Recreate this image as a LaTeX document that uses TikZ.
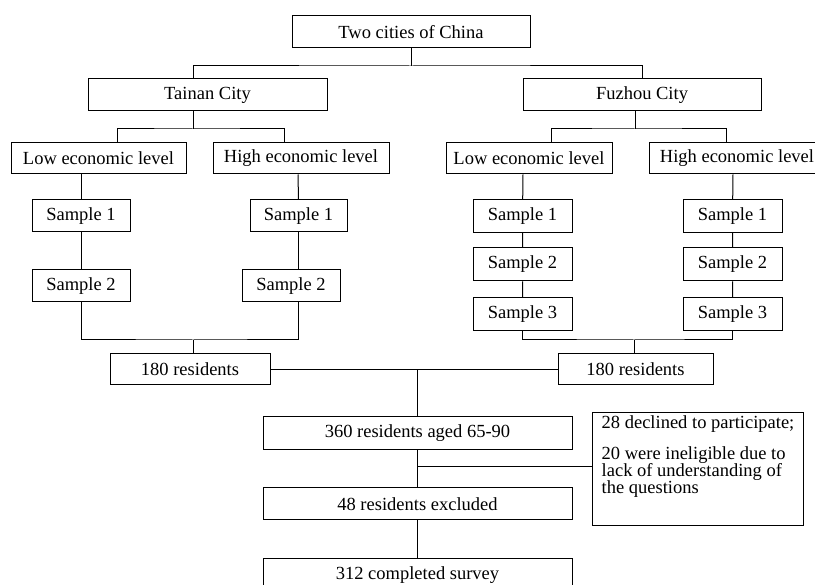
\documentclass[tikz,border=0pt]{standalone}
\usepackage{fontspec}
\setmainfont{Liberation Serif}
\usepackage{xcolor}
\usetikzlibrary{positioning, calc}

\begin{document}
\begin{tikzpicture}[
          x=1pt, y=-1pt,
          every node/.style={font=\fontsize{18.5}{22}\selectfont},
          box/.style={rectangle, draw=black, line width=1pt, inner sep=0pt, minimum height=32pt},
          notebox/.style={rectangle, draw=black, line width=1pt, align=left, inner xsep=8pt, inner ysep=4pt, text height=77.5pt, text depth=27.5pt, minimum width=211pt, font=\fontsize{18.5}{17.5}\selectfont},
          link/.style={draw=black, line width=1pt}
        ]
          \useasboundingbox (0,0) rectangle (815,585);

          % Study area
          \node[box, minimum width=238pt] (china) at (411,32) {Two cities of China};
          \node[box, minimum width=239pt] (tainan) at (207.5,95) {Tainan City};
          \node[box, minimum width=238pt] (fuzhou) at (642,95) {Fuzhou City};

          % Economic levels
          \node[box, minimum width=175pt, minimum height=31pt] (tlow) at (98.5,158.5) {Low economic level};
          \node[box, minimum width=176pt, minimum height=31pt] (thigh) at (301,158.5) {High economic level};
          \node[box, minimum width=166pt, minimum height=31pt] (flow) at (529,158.5) {Low economic level};
          \node[box, minimum width=176pt, minimum height=31pt] (fhigh) at (737,158.5) {High economic level};

          % Samples, Tainan
          \node[box, minimum width=98pt] (tl1) at (81,216) {Sample 1};
          \node[box, minimum width=98pt] (tl2) at (81,286) {Sample 2};
          \node[box, minimum width=97pt] (th1) at (298.5,216) {Sample 1};
          \node[box, minimum width=98pt] (th2) at (291,286) {Sample 2};

          % Samples, Fuzhou
          \node[box, minimum width=99pt, minimum height=33pt] (fl1) at (522.5,216) {Sample 1};
          \node[box, minimum width=99pt, minimum height=33pt] (fl2) at (522.5,264.5) {Sample 2};
          \node[box, minimum width=99pt, minimum height=33pt] (fl3) at (522.5,314.5) {Sample 3};
          \node[box, minimum width=99pt, minimum height=33pt] (fh1) at (732.5,216) {Sample 1};
          \node[box, minimum width=99pt, minimum height=33pt] (fh2) at (732.5,264.5) {Sample 2};
          \node[box, minimum width=99pt, minimum height=33pt] (fh3) at (732.5,314.5) {Sample 3};

          % Residents
          \node[box, minimum width=160pt, minimum height=31pt] (tres) at (190,369.5) {180 residents};
          \node[box, minimum width=155pt, minimum height=31pt] (fres) at (635.5,369.5) {180 residents};
          \node[box, minimum width=309pt, minimum height=33pt] (total) at (417.5,433.5) {360 residents aged 65-90};
          \node[box, minimum width=309pt] (excl) at (417.5,504) {48 residents excluded};
          \node[box, minimum width=309pt] (done) at (417.5,575) {312 completed survey};
          \node[notebox, anchor=north west] (reason) at (592,412) {28 declined to participate;\\[13pt]20 were ineligible due to\\lack of understanding of\\the questions};

          % Top split
          \coordinate (j0) at (411,66);
          \draw[link] (china.south) -- (j0);
          \draw[link] ([xshift=-14.5pt]tainan.north) |- (j0) -| (fuzhou.north);

          % City splits
          \coordinate (j1) at (193,129);
          \draw[link] ([xshift=-14.5pt]tainan.south) -- (j1);
          \draw[link] ([xshift=18.5pt]tlow.north) |- (j1) -| ([xshift=-17pt]thigh.north);
          \coordinate (j2) at (635,129);
          \draw[link] ([xshift=-7pt]fuzhou.south) -- (j2);
          \draw[link] ([xshift=22pt]flow.north) |- (j2) -| ([xshift=-11pt]fhigh.north);

          % Sample chains
          \draw[link] ([xshift=-17.5pt]tlow.south) -- (tl1) -- (tl2);
          \draw[link] ([xshift=-3pt]thigh.south) -- (th1.north);
          \draw[link] (th1.south) -- (th1.south |- th2.north);
          \draw[link] ([xshift=-6pt]flow.south) -- (fl1) -- (fl2) -- (fl3);
          \draw[link] ([xshift=-4pt]fhigh.south) -- (fh1) -- (fh2) -- (fh3);

          % Merge brackets
          \coordinate (j3) at (193,340);
          \draw[link] (tl2.south) |- (j3) -| (th1.south |- th2.south);
          \draw[link] (j3) -- ([xshift=3pt]tres.north);
          \coordinate (j4) at (634,340);
          \draw[link] (fl3.south) |- (j4) -| (fh3.south);
          \draw[link] (j4) -- (j4 |- fres.north);

          % Pooled sample
          \draw[link] (tres.east) -- (fres.west);
          \draw[link] (total.north) -- (total.north |- tres.east);

          % Exclusions
          \coordinate (j5) at (417.5,467);
          \draw[link] (total) -- (excl);
          \draw[link] (j5) -- (j5 -| reason.west);
          \draw[link] (excl) -- (done);
        \end{tikzpicture}
\end{document}
